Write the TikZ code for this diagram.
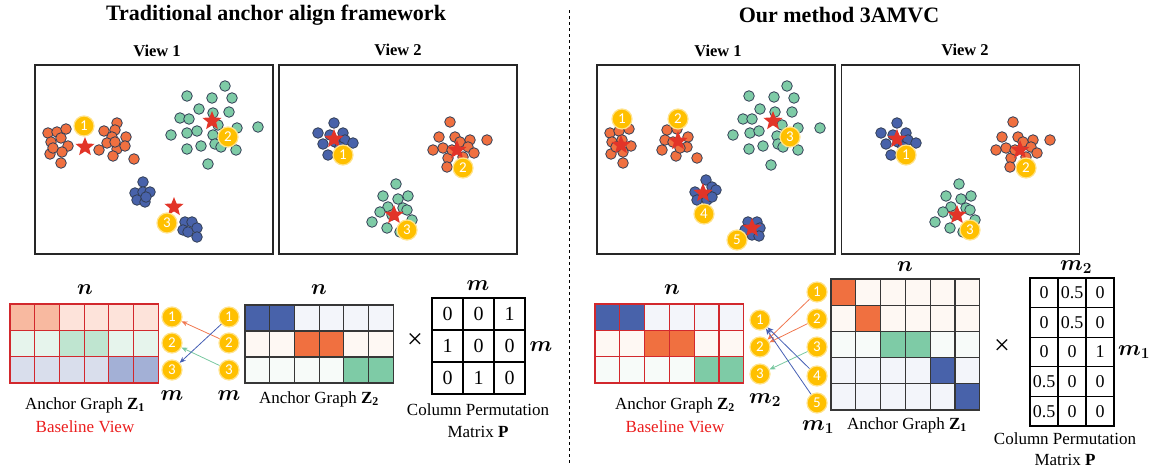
\documentclass[tikz,border=0pt]{standalone}
\usepackage{fix-cm}
\usepackage{fontspec}
\setmainfont{Liberation Serif}
\newfontfamily\badgefont{Carlito}
\usepackage{bm}
\usetikzlibrary{shapes.geometric,arrows.meta}

% cluster and matrix colours
\definecolor{orangeD}{RGB}{240,112,64}
\definecolor{tealD}{RGB}{126,203,166}
\definecolor{blueD}{RGB}{72,98,170}
\definecolor{dotline}{RGB}{50,62,85}
\definecolor{starred}{RGB}{226,52,40}
\definecolor{badgeyellow}{RGB}{255,192,0}
\definecolor{lightO}{RGB}{254,248,243}
\definecolor{lightT}{RGB}{247,251,249}
\definecolor{lightB}{RGB}{243,245,250}
\definecolor{zsa}{RGB}{248,185,160}
\definecolor{zsb}{RGB}{253,227,218}
\definecolor{zta}{RGB}{191,229,208}
\definecolor{ztb}{RGB}{230,244,236}
\definecolor{zba}{RGB}{163,176,214}
\definecolor{zbb}{RGB}{217,222,236}
\definecolor{gridred}{RGB}{210,40,45}
\definecolor{griddark}{RGB}{55,55,55}
\definecolor{baseRed}{RGB}{235,30,30}
\definecolor{arrorange}{RGB}{240,120,80}
\definecolor{arrteal}{RGB}{120,200,160}
\definecolor{arrblue}{RGB}{70,95,180}

\begin{document}
\begin{tikzpicture}[x=1pt,y=-1pt,
  dot/.style={draw=dotline,line width=0.8pt},
  redstar/.style={star,star points=5,star point ratio=2.3,fill=starred,minimum size=20pt,inner sep=0pt},
  badge/.style={circle,fill=badgeyellow,draw=badgeyellow!45,line width=1.2pt,minimum size=20pt,inner sep=0pt,
    text=white,font=\badgefont\fontsize{15}{15}\selectfont},
  viewbox/.style={draw=black!85,line width=1.6pt,minimum width=238pt,minimum height=189pt,inner sep=0pt},
  viewlbl/.style={font=\bfseries\fontsize{16.5}{18}\selectfont},
  titlelbl/.style={font=\bfseries\fontsize{22}{24}\selectfont},
  lbl/.style={font=\fontsize{17}{20}\selectfont},
  mlbl/.style={font=\fontsize{22}{24}\selectfont},
  timeslbl/.style={font=\fontsize{28}{28}\selectfont},
  pcell/.style={draw=black,line width=1.2pt,inner sep=0pt},
  arr/.style={-{Stealth[length=6pt,width=5pt]},line width=0.8pt},
]
\useasboundingbox (0,0) rectangle (1151,474);

% Titles and divider
\node[titlelbl] (tleft) at (276,15) {Traditional anchor align framework};
\node[titlelbl] (tright) at (839,15) {Our method 3AMVC};
\coordinate (dtop) at (569,10);
\coordinate (dbot) at (569,463);
\draw[dashed,line width=0.8pt] (dtop) -- (dbot);

% View boxes
\node[viewbox] (lv1) at (154,159.5) {};
\node[viewlbl] (lv1t) at (157,51) {View 1};
\node[viewbox] (lv2) at (398,159.5) {};
\node[viewlbl] (lv2t) at (398,50) {View 2};
\node[viewbox] (rv1) at (716,159.5) {};
\node[viewlbl] (rv1t) at (718,51) {View 1};
\node[viewbox] (rv2) at (960.5,159.5) {};
\node[viewlbl] (rv2t) at (965,50) {View 2};

% Traditional: view 1 clusters
\foreach \x/\y in {48/133,57/132,66/129,61/138,51/142,68/146,62/152,50/154,61/163,53/148,
    117/123,104/131,115/130,126/137,112/137,107/143,117/149,125/146,99/150,113/156,134/159,115/142}
  \filldraw[dot,fill=orangeD] (\x,\y) circle (5.3pt);
\foreach \x/\y in {225/86,187/96,212/98,232/98,199/109,213/113,229/112,180/118,189/119,218/125,237/128,
    258/127,171/135,187/133,197/131,213/135,215/144,221/147,201/146,187/149,236/150,208/164}
  \filldraw[dot,fill=tealD] (\x,\y) circle (5.3pt);
\foreach \x/\y in {143/182,135/193,143/192,150/192,137/200,145/202,146/197,
    185/222,192/222,197/228,183/230,188/232,197/237}
  \filldraw[dot,fill=blueD] (\x,\y) circle (5.3pt);
\node[redstar] (ls1) at (85,147) {};
\node[redstar] (ls2) at (212,121) {};
\node[redstar] (ls3) at (174,207) {};
\node[badge] (lu1) at (84,126) {1};
\node[badge] (lu2) at (228,137) {2};
\node[badge] (lu3) at (167,223) {3};

% View 2 is the same in both halves
\foreach \dx/\s in {0/l,563/r}{
  \begin{scope}[xshift=\dx pt]
    \foreach \x/\y in {334/123,318/133,330/135,343/133,323/144,335/142,345/140,353/143,328/155,340/147}
      \filldraw[dot,fill=blueD] (\x,\y) circle (5.3pt);
    \foreach \x/\y in {450/122,439/137,455/137,470/140,487/140,443/148,433/150,460/142,468/147,
        474/153,448/158,447/167,452/150,463/157}
      \filldraw[dot,fill=orangeD] (\x,\y) circle (5.3pt);
    \foreach \x/\y in {396/184,383/196,398/199,408/196,388/207,403/208,380/212,407/210,372/222,
        387/228,412/220,400/232,392/215}
      \filldraw[dot,fill=tealD] (\x,\y) circle (5.3pt);
    \node[redstar] (\s vs1) at (334,139) {};
    \node[redstar] (\s vs2) at (457,150) {};
    \node[redstar] (\s vs3) at (394,215) {};
    \node[badge] (\s w1) at (343,155) {1};
    \node[badge] (\s w2) at (463,168) {2};
    \node[badge] (\s w3) at (407,230) {3};
  \end{scope}
}

% 3AMVC: view 1 clusters
\foreach \x/\y in {610/133,619/131,629/129,612/142,622/140,631/146,611/154,623/152,623/163,616/147,
    667/130,677/129,665/140,673/142,688/137,687/147,662/150,676/156,697/158,680/148}
  \filldraw[dot,fill=orangeD] (\x,\y) circle (5.3pt);
\foreach \x/\y in {787/86,749/96,774/97,794/98,760/109,775/112,792/112,743/119,752/119,782/125,798/128,
    820/128,733/135,750/133,759/131,777/136,778/144,783/147,763/146,749/149,798/150,771/165}
  \filldraw[dot,fill=tealD] (\x,\y) circle (5.3pt);
\foreach \x/\y in {706/180,695/192,712/187,716/190,697/200,707/200,712/197,
    748/222,757/222,745/230,760/228,752/235,759/236}
  \filldraw[dot,fill=blueD] (\x,\y) circle (5.3pt);
\node[redstar] (rs1) at (621,145) {};
\node[redstar] (rs2) at (678,141) {};
\node[redstar] (rs3) at (773,121) {};
\node[redstar] (rs4) at (703,193) {};
\node[redstar] (rs5) at (752,228) {};
\node[badge] (ru1) at (622,119) {1};
\node[badge] (ru2) at (678,119) {2};
\node[badge] (ru3) at (790,137) {3};
\node[badge] (ru4) at (704,214) {4};
\node[badge] (ru5) at (737,240) {5};

% Traditional: anchor graph Z1 (baseline)
\node[mlbl] (ln1) at (85,290) {$\bm{n}$};
\foreach \row [count=\r from 0] in {{zsa,zsa,zsb,zsb,zsb,zsb},{ztb,ztb,zta,zta,ztb,ztb},{zbb,zbb,zbb,zbb,zba,zba}}
  \foreach \c [count=\k from 0] in \row
    \filldraw[fill=\c,draw=gridred,line width=1.2pt] (10+\k*24.7,304+\r*26.3) rectangle ++(24.7,26.3);
\node[lbl] (lz1) at (85,405) {Anchor Graph $\mathbf{Z}_{\mathbf{1}}$};
\node[lbl,text=baseRed] (lbase) at (85,427) {Baseline View};

% Traditional: anchor matching
\node[badge] (la1) at (172,317) {1};
\node[badge] (la2) at (172,343) {2};
\node[badge] (la3) at (172,370) {3};
\node[badge] (lb1) at (229,317) {1};
\node[badge] (lb2) at (229,343) {2};
\node[badge] (lb3) at (229,370) {3};
\draw[arr,draw=arrorange] (lb2) -- (la1);
\draw[arr,draw=arrteal] (lb3) -- (la2);
\draw[arr,draw=arrblue] (lb1) -- (la3);
\node[mlbl] (lm1) at (172,396) {$\bm{m}$};
\node[mlbl] (lm2) at (229,396) {$\bm{m}$};

% Traditional: anchor graph Z2
\node[mlbl] (ln2) at (319,290) {$\bm{n}$};
\foreach \row [count=\r from 0] in {{blueD,blueD,lightB,lightB,lightB,lightB},{lightO,lightO,orangeD,orangeD,lightO,lightO},{lightT,lightT,lightT,lightT,tealD,tealD}}
  \foreach \c [count=\k from 0] in \row
    \filldraw[fill=\c,draw=griddark,line width=1.2pt] (245+\k*24.7,305+\r*26) rectangle ++(24.7,26);
\node[lbl] (lz2) at (319,399) {Anchor Graph $\mathbf{Z}_{\mathbf{2}}$};

% Traditional: permutation matrix
\node[timeslbl] (ltimes) at (415,341) {×};
\foreach \v [count=\i from 0] in {0,0,1,1,0,0,0,1,0}
  \node[pcell,minimum width=31pt,minimum height=32pt,font=\fontsize{20}{20}\selectfont] (lp\i)
    at ({447.5+mod(\i,3)*31},{314+int(\i/3)*32}) {\v};
\node[mlbl] (lpm1) at (478,286) {$\bm{m}$};
\node[mlbl] (lpm2) at (541,347) {$\bm{m}$};
\node[lbl] (lpc) at (478,410) {Column Permutation};
\node[lbl] (lpd) at (478,432) {Matrix $\mathbf{P}$};

% 3AMVC: anchor graph Z2 (baseline)
\node[mlbl] (rn2) at (672,290) {$\bm{n}$};
\foreach \row [count=\r from 0] in {{blueD,blueD,lightB,lightB,lightB,lightB},{lightO,lightO,orangeD,orangeD,lightO,lightO},{lightT,lightT,lightT,lightT,tealD,tealD}}
  \foreach \c [count=\k from 0] in \row
    \filldraw[fill=\c,draw=gridred,line width=1.2pt] (595+\k*24.8,304+\r*26.3) rectangle ++(24.8,26.3);
\node[lbl] (rz2) at (675,405) {Anchor Graph $\mathbf{Z}_{\mathbf{2}}$};
\node[lbl,text=baseRed] (rbase) at (675,427) {Baseline View};

% 3AMVC: anchor matching
\node[badge] (p1) at (760,320) {1};
\node[badge] (p2) at (760,347) {2};
\node[badge] (p3) at (760,374) {3};
\node[badge] (q1) at (817,292) {1};
\node[badge] (q2) at (817,319) {2};
\node[badge] (q3) at (817,347) {3};
\node[badge] (q4) at (817,376) {4};
\node[badge] (q5) at (817,403) {5};
\draw[arr,draw=arrorange] (q1) -- (p2);
\draw[arr,draw=arrorange] (q2) -- (p2);
\draw[arr,draw=arrteal] (q3) -- (p3);
\draw[arr,draw=arrblue] (q4) -- (p1);
\draw[arr,draw=arrblue] (q5) -- (p1);
\node[mlbl] (rm2) at (765,400) {$\bm{m_2}$};
\node[mlbl] (rm1) at (818,427) {$\bm{m_1}$};

% 3AMVC: anchor graph Z1
\node[mlbl] (rn1) at (905,267) {$\bm{n}$};
\foreach \row [count=\r from 0] in {{orangeD,lightO,lightO,lightO,lightO,lightO},{lightO,orangeD,lightO,lightO,lightO,lightO},
    {lightT,lightT,tealD,tealD,lightT,lightT},{lightB,lightB,lightB,lightB,blueD,lightB},{lightB,lightB,lightB,lightB,lightB,blueD}}
  \foreach \c [count=\k from 0] in \row
    \filldraw[fill=\c,draw=griddark,line width=1.2pt] (831+\k*24.8,279+\r*26.2) rectangle ++(24.8,26.2);
\node[lbl] (rz1) at (907,425) {Anchor Graph $\mathbf{Z}_{\mathbf{1}}$};

% 3AMVC: soft permutation matrix
\node[timeslbl] (rtimes) at (1002,347) {×};
\foreach \v [count=\i from 0] in {0,0.5,0,0,0.5,0,0,0,1,0.5,0,0,0.5,0,0}
  \node[pcell,minimum width=28pt,minimum height=29.6pt,font=\fontsize{18}{18}\selectfont] (rp\i)
    at ({1044+mod(\i,3)*28},{292.8+int(\i/3)*29.6}) {\v};
\node[mlbl] (rpm2) at (1076,267) {$\bm{m_2}$};
\node[mlbl] (rpm1) at (1134,352) {$\bm{m_1}$};
\node[lbl] (rpc) at (1065,439) {Column Permutation};
\node[lbl] (rpd) at (1065,460) {Matrix $\mathbf{P}$};
\end{tikzpicture}
\end{document}
